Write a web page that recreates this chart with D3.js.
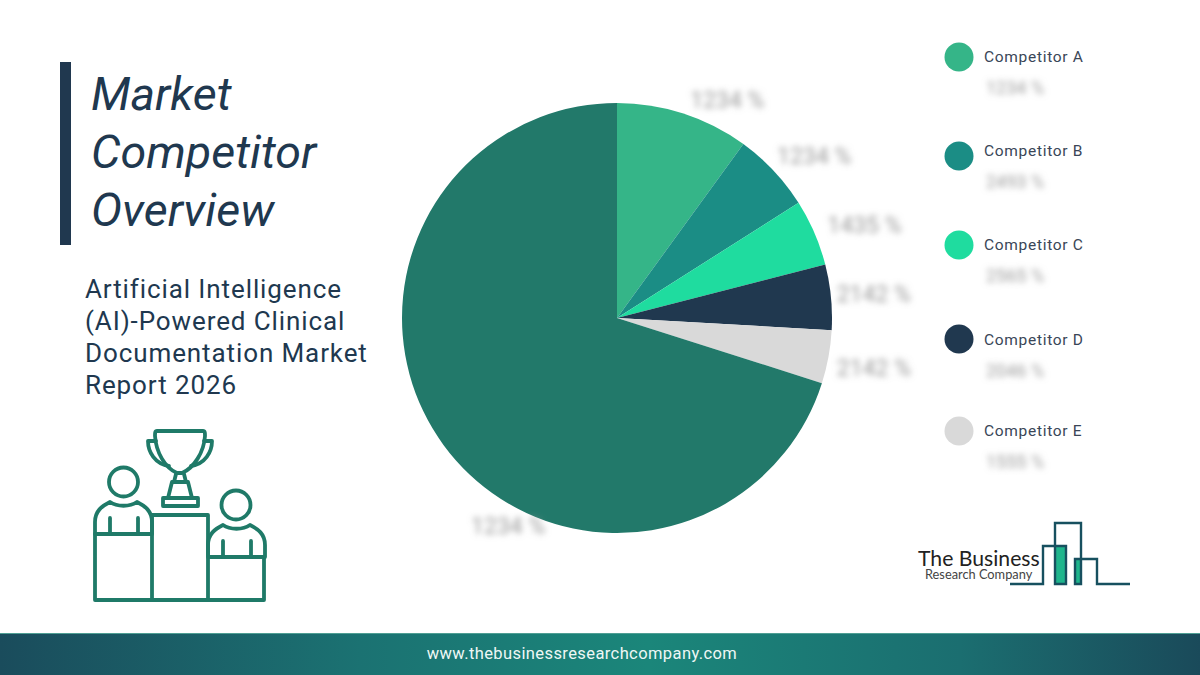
<!DOCTYPE html>
<html>
<head>
<meta charset="utf-8">
<script src="https://cdn.jsdelivr.net/npm/d3@7"></script>
<style>
  html, body { margin: 0; padding: 0; background: #fff; }
  svg { display: block; }
  text { font-family: Roboto, sans-serif; }
</style>
</head>
<body>
<div id="chart"></div>
<script>
// data
var categories = ["Competitor A", "Competitor B", "Competitor C", "Competitor D", "Competitor E", "Others"];
var shares = [10, 6, 5, 4.9, 4, 70.1];
var pieLabels = ["1234 %", "1234 %", "1435 %", "2142 %", "2142 %", "1234 %"];
var legendNames = ["Competitor A", "Competitor B", "Competitor C", "Competitor D", "Competitor E"];
var legendValues = ["1234 %", "2493 %", "2565 %", "2046 %", "1555 %"];
var titleLines = ["Market", "Competitor", "Overview"];
var subtitleLines = ["Artificial Intelligence", "(AI)-Powered Clinical", "Documentation Market", "Report 2026"];
var colors = ["#35b588", "#1b8d85", "#1fdc9f", "#20384f", "#d9d9d9", "#22796a"];

// layout
var width = 1200, height = 675;
var cx = 617, cy = 318, radius = 215;
var navy = "#20384f", green = "#1f7a68";
var legendY = [57, 151, 245, 340, 431];
var dotY = [57, 156, 245, 339, 431];
// the pie labels do not sit on their slice's middle, so each gets a shift
var labelShift = [[33, 20], [15, 9], [18, 6], [8, 0], [11, 5], [93, 60]];

var svg = d3.select("#chart").append("svg").attr("width", width).attr("height", height);
var defs = svg.append("defs");

defs.append("filter").attr("id", "blur").attr("x", "-20%").attr("y", "-60%").attr("width", "140%").attr("height", "220%")
  .append("feGaussianBlur").attr("stdDeviation", 3);

var grad = defs.append("linearGradient").attr("id", "foot").attr("x1", 0).attr("x2", 1).attr("y1", 0).attr("y2", 0);
grad.append("stop").attr("offset", "0%").attr("stop-color", "#1a4c5c");
grad.append("stop").attr("offset", "30%").attr("stop-color", "#1b7272");
grad.append("stop").attr("offset", "54%").attr("stop-color", "#1b867a");
grad.append("stop").attr("offset", "80%").attr("stop-color", "#1b6e70");
grad.append("stop").attr("offset", "100%").attr("stop-color", "#1a4a5a");

// title block
svg.append("rect").attr("x", 60).attr("y", 62).attr("width", 11).attr("height", 183).attr("fill", navy);

svg.selectAll(".title").data(titleLines).enter().append("text")
  .attr("class", "title")
  .attr("x", 91)
  .attr("y", function(d, i) { return 110 + i * 58; })
  .attr("fill", navy)
  .style("font-style", "italic")
  .style("font-size", "46.6px")
  .text(function(d) { return d; });

svg.selectAll(".subtitle").data(subtitleLines).enter().append("text")
  .attr("class", "subtitle")
  .attr("x", 85)
  .attr("y", function(d, i) { return 298 + i * 32; })
  .attr("fill", navy)
  .style("font-size", "26px")
  .style("letter-spacing", "0.9px")
  .text(function(d) { return d; });

// pie
var color = d3.scaleOrdinal().domain(categories).range(colors);
var pie = d3.pie().sort(null).value(function(d, i) { return shares[i]; });
var arc = d3.arc().innerRadius(0).outerRadius(radius);
var labelArc = d3.arc().innerRadius(250).outerRadius(250);
var arcs = pie(categories);

var g = svg.append("g").attr("transform", "translate(" + cx + "," + cy + ")");

g.selectAll("path").data(arcs).enter().append("path")
  .attr("d", arc)
  .attr("fill", function(d) { return color(d.data); });

g.selectAll("text").data(arcs).enter().append("text")
  .attr("transform", function(d, i) {
    var c = labelArc.centroid(d);
    return "translate(" + (c[0] + labelShift[i][0]) + "," + (c[1] + labelShift[i][1]) + ")";
  })
  .attr("text-anchor", "middle")
  .attr("dy", "0.35em")
  .attr("fill", "#999")
  .attr("filter", "url(#blur)")
  .style("font-size", "23px")
  .text(function(d, i) { return pieLabels[i]; });

// legend
var legend = svg.selectAll(".legend").data(legendNames).enter().append("g")
  .attr("class", "legend")
  .attr("transform", function(d, i) { return "translate(0," + legendY[i] + ")"; });

legend.append("circle").attr("cx", 959).attr("r", 14.5)
  .attr("cy", function(d, i) { return dotY[i] - legendY[i]; })
  .attr("fill", function(d) { return color(d); });

legend.append("text").attr("x", 984).attr("y", 4.5)
  .attr("fill", "#3a4657")
  .style("font-size", "15.5px")
  .style("letter-spacing", "0.7px")
  .text(function(d) { return d; });

legend.append("text").attr("x", 986).attr("y", 37)
  .attr("fill", "#999")
  .attr("filter", "url(#blur)")
  .style("font-size", "18px")
  .text(function(d, i) { return legendValues[i]; });

// podium icon
var icon = svg.append("g").attr("fill", "none").attr("stroke", green).attr("stroke-width", 3.8)
  .attr("stroke-linejoin", "round").attr("stroke-linecap", "round");
icon.append("circle").attr("cx", 123.5).attr("cy", 482).attr("r", 14.5);
icon.append("circle").attr("cx", 236).attr("cy", 505).attr("r", 14.5);
icon.append("path").attr("d", "M95,534V600H264V557H208M95,534H152M152,600V515H208V600");
var shoulders = "M95,534V522C95,511 102,506 110,502C117,507 130,507 137,502C145,506 152,511 152,522V534M110,518V534M138,518V534";
icon.append("path").attr("d", shoulders);
icon.append("path").attr("d", shoulders).attr("transform", "translate(113,23)");
icon.append("path").attr("d", "M157,431H203C205,431 205,433 205,436C204,452 194,468 182,473H177C165,468 156,452 155,436C155,433 155,431 157,431Z");
icon.append("path").attr("d", "M156,441H148C148,452 155,464 169,466M204,441H212C212,452 205,464 191,466");
icon.append("path").attr("d", "M176,474L174,482H186L184,474M172,482H188L192,498H168ZM163,498H198V506H163Z");

// company logo
svg.append("rect").attr("x", 1056).attr("y", 546).attr("width", 10).attr("height", 38).attr("fill", "#1fb58c");
svg.append("rect").attr("x", 1075).attr("y", 559).attr("width", 6).attr("height", 25).attr("fill", "#1fb58c");
svg.append("path")
  .attr("d", "M1010,584H1043V546H1066V584H1055V523H1081V584H1075V559H1097V584H1130")
  .attr("fill", "none").attr("stroke", "#17505f").attr("stroke-width", 2.4);
svg.append("text").attr("x", 918).attr("y", 566).attr("fill", "#222")
  .style("font-family", "Lato, sans-serif").style("font-size", "21.2px").style("font-weight", 400)
  .text("The Business");
svg.append("text").attr("x", 925).attr("y", 578.5).attr("fill", "#444")
  .style("font-family", "Lato, sans-serif").style("font-size", "12.8px")
  .text("Research Company");

// footer band
svg.append("rect").attr("x", 0).attr("y", 633).attr("width", width).attr("height", 42).attr("fill", "url(#foot)");
svg.append("rect").attr("x", 0).attr("y", 633).attr("width", width).attr("height", 1).attr("fill", "#4f9f94");
svg.append("text").attr("x", 582).attr("y", 659).attr("text-anchor", "middle").attr("fill", "#eef7f5")
  .style("font-size", "16.5px")
  .style("letter-spacing", "0.4px")
  .text("www.thebusinessresearchcompany.com");
</script>
</body>
</html>
